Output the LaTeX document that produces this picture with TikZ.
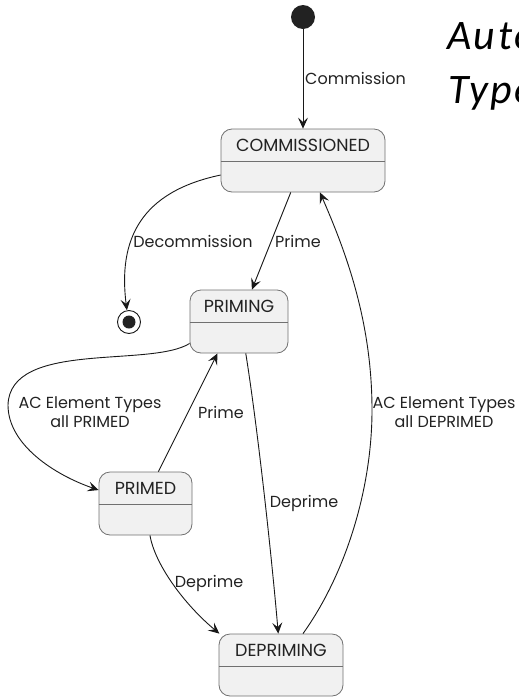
\documentclass[tikz,border=0pt]{standalone}
\usepackage{fontspec}
\setmainfont{Poppins}
\newfontfamily\titlefont[LetterSpace=6]{Carlito}
\usetikzlibrary{arrows.meta}
\definecolor{statefill}{HTML}{F1F1F1}
\definecolor{lineclr}{HTML}{181818}
\definecolor{borderclr}{HTML}{707070}
\definecolor{txtclr}{HTML}{222222}
\begin{document}
\begin{tikzpicture}[x=1pt,y=-1pt,
  state/.style={draw=borderclr, line width=0.8pt, fill=statefill, rounded corners=11pt, inner sep=0pt},
  sepline/.style={draw=borderclr, line width=0.8pt},
  stname/.style={font=\fontsize{17.5}{20}\selectfont, text=txtclr, inner sep=0pt},
  lbl/.style={font=\fontsize{16}{19}\selectfont, text=txtclr, inner sep=0pt, align=center},
  tr/.style={draw=lineclr, line width=0.9pt, -{Stealth[length=11pt,width=10pt,inset=4.5pt]}},
  titletext/.style={anchor=base west, inner sep=0pt, font=\titlefont\itshape\fontsize{42}{52}\selectfont},
]
\useasboundingbox (0,0) rectangle (519,697);

% title
\node[titletext] (title1) at (447,49) {Auto};
\node[titletext] (title2) at (448,103) {Type};

% pseudo states
\node[circle, fill=txtclr, minimum size=24pt, inner sep=0pt] (start) at (303,17) {};
\node[circle, draw=lineclr, line width=0.9pt, fill=white, minimum size=23pt, inner sep=0pt] (end) at (129,322) {};
\node[circle, fill=txtclr, minimum size=13pt, inner sep=0pt] (endDot) at (end.center) {};

% states
\node[state, minimum width=164pt, minimum height=63pt] (comm) at (303,160.5) {};
\draw[sepline] ([yshift=-33pt]comm.north west) -- ([yshift=-33pt]comm.north east);
\node[stname] (commL) at ([yshift=-17pt]comm.north) {COMMISSIONED};

\node[state, minimum width=98pt, minimum height=63pt] (priming) at (239,321.5) {};
\draw[sepline] ([yshift=-33pt]priming.north west) -- ([yshift=-33pt]priming.north east);
\node[stname] (primingL) at ([yshift=-17pt]priming.north) {PRIMING};

\node[state, minimum width=93pt, minimum height=63pt] (primed) at (145.5,503.5) {};
\draw[sepline] ([yshift=-33pt]primed.north west) -- ([yshift=-33pt]primed.north east);
\node[stname] (primedL) at ([yshift=-17pt]primed.north) {PRIMED};

\node[state, minimum width=124pt, minimum height=62pt] (depriming) at (281,665) {};
\draw[sepline] ([yshift=-33pt]depriming.north west) -- ([yshift=-33pt]depriming.north east);
\node[stname] (deprimingL) at ([yshift=-17pt]depriming.north) {DEPRIMING};

% transitions
\draw[tr] (start) -- (comm.north);
\node[lbl, anchor=west] (lCommission) at (305,78) {Commission};

\draw[tr] (comm.190) .. controls (140,192) and (118,240) .. (end.100);
\node[lbl] (lDecommission) at (193,241) {Decommission};

\draw[tr] (comm.249) -- (priming.68);
\node[lbl] (lPrime1) at (298,241) {Prime};

\draw[tr] (priming.204) .. controls (150,368) and (10,340) .. (8,405)
          .. controls (8,445) and (55,475) .. (primed.164);
\node[lbl] (lAllPrimed) at (90,412) {AC Element Types\\all PRIMED};

\draw[tr] (primed.68) -- (priming.236);
\node[lbl] (lPrime2) at (221,412) {Prime};

\draw[tr] (priming.282) .. controls (258,430) and (272,560) .. (depriming.95);
\node[lbl] (lDeprime1) at (304,503) {Deprime};

\draw[tr] (primed.278) .. controls (155,565) and (185,605) .. (depriming.153);
\node[lbl] (lDeprime2) at (209,583) {Deprime};

\draw[tr] (depriming.55) .. controls (345,575) and (372,490) .. (372,410)
          .. controls (372,320) and (345,250) .. (comm.298);
\node[lbl] (lAllDeprimed) at (444,412) {AC Element Types\\all DEPRIMED};
\end{tikzpicture}
\end{document}
